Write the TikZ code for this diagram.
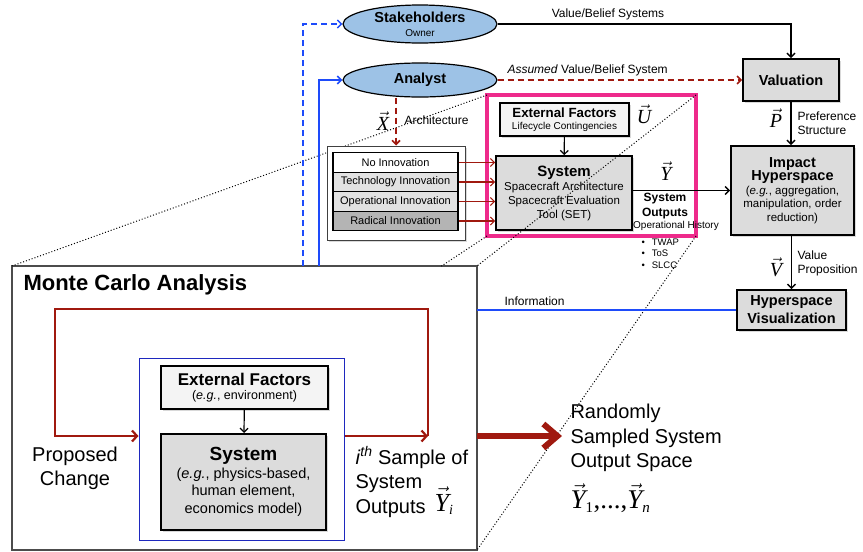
\documentclass[tikz,border=0pt]{standalone}
\usepackage{fontspec}
\setmainfont{Liberation Sans}
\newfontfamily\vecfont{Liberation Serif}
\usetikzlibrary{arrows.meta,shapes.geometric,shadows,calc}

\definecolor{mcred}{RGB}{160,25,15}
\definecolor{framepink}{RGB}{238,42,139}
\definecolor{ellblue}{RGB}{157,194,230}
\definecolor{lineblue}{RGB}{30,75,250}
\definecolor{innerblue}{RGB}{30,40,190}
\definecolor{boxgray}{RGB}{220,220,220}
\definecolor{boxlight}{RGB}{244,244,244}
\definecolor{rowgray}{RGB}{226,226,226}
\definecolor{rowdark}{RGB}{180,180,180}

\newcommand{\fsz}[2]{\fontsize{#1}{#2}\selectfont}
\newcommand{\vsym}[1]{\vec{\mbox{\vecfont\itshape #1}}}
\newcommand{\vsub}[1]{_{\mbox{\vecfont\fsz{15}{15}#1}}}

\tikzset{
  shade box/.style={drop shadow={opacity=0.3,shadow xshift=1.5pt,shadow yshift=-1.5pt}},
  graybox/.style={draw, line width=1.6pt, fill=boxgray, inner sep=0pt, align=center, shade box},
  lightbox/.style={draw, line width=1.4pt, fill=boxlight, inner sep=0pt, align=center, shade box},
  actor/.style={ellipse, draw, line width=1.2pt, fill=ellblue, inner sep=0pt, align=center, minimum width=154pt},
  innorow/.style={draw, line width=1.1pt, minimum width=125pt, minimum height=19.5pt, inner sep=0pt, font=\fsz{11}{13}},
  vlabel/.style={font=\fsz{20}{22}, inner sep=0.5pt},
  lbl/.style={font=\fsz{12}{14}},
  blkarrow/.style={->, line width=1.5pt},
  redarrow/.style={->, draw=mcred, line width=1.2pt},
  reddash/.style={->, draw=mcred, line width=1.6pt, dash pattern=on 6pt off 4pt},
  loopline/.style={draw=mcred, line width=2.2pt, -{Straight Barb[length=5pt,width=11pt]}},
  zoomline/.style={dotted, line width=1pt},
}

\begin{document}
\begin{tikzpicture}[x=1pt, y=-1pt, >={Straight Barb[length=4pt,width=8pt]}]
    \useasboundingbox (0,0) rectangle (863,552);

    % Khung hong: he thong tau vu tru
    \node[lightbox, minimum width=129pt, minimum height=33pt] (extu) at (564.5,119.5)
      {{\bfseries\fsz{13.3}{15}External Factors}\\ {\fsz{10}{12}Lifecycle Contingencies}};
    \node[graybox, minimum width=136pt, minimum height=74pt, font=\fsz{11.5}{14}] (sys) at (564,193)
      {{\bfseries\fsz{15}{17}System}\\ Spacecraft Architecture\\ Spacecraft Evaluation\\ Tool (SET)};
    \node[draw=framepink, line width=4pt, minimum width=209pt, minimum height=141pt, inner sep=0pt, outer sep=0pt] (pink) at (591.5,165.5) {};

    % Hop Monte Carlo
    \node[draw=black!70, line width=1.6pt, fill=white, minimum width=465pt, minimum height=284pt, inner sep=0pt, outer sep=0pt] (mc) at (244.5,408) {};

    % Duong cham phong to
    \draw[zoomline] (pink.north west) -- (mc.north west);
    \draw[zoomline] (pink.north east) -- (mc.north east);
    \draw[zoomline] (pink.south west) -- ($(pink.south west)!0.096!(mc.south west)$);
    \draw[zoomline] (pink.south east) -- (mc.south east);

    % Noi dung Monte Carlo
    \node[font=\bfseries\fsz{22}{24}, anchor=west] (mctitle) at (20,285) {Monte Carlo Analysis};
    \node[draw=innerblue, line width=1pt, minimum width=205pt, minimum height=182pt, inner sep=0pt] (inbox) at (241.5,449) {};
    \node[lightbox, minimum width=167pt, minimum height=43pt] (extmc) at (244.5,387.5)
      {{\bfseries\fsz{17}{19}External Factors}\\[2pt] {\fsz{12.5}{14}(\textit{e.g.}, environment)}};
    \node[graybox, line width=2pt, minimum width=165pt, minimum height=96pt, font=\fsz{14.5}{17.5}] (sysmc) at (243.5,482)
      {{\bfseries\fsz{19}{21}System}\\ (\textit{e.g.}, physics-based,\\ human element,\\ economics model)};
    \draw[blkarrow, line width=1.2pt] (extmc) -- (sysmc);

    \coordinate (loopR) at (428,436);
    \coordinate (loopL) at (55,436);
    \coordinate (loopT) at (55,309);
    \draw[loopline] (inbox.east |- loopR) -- (loopR);
    \draw[loopline] (loopR) -- (loopR |- loopT) -- (loopT) -- (loopL) -- (inbox.west |- loopL);

    \node[font=\fsz{20}{24}, align=center] (propchg) at (75,468) {Proposed\\Change};
    \node[font=\fsz{20}{24.5}, align=left, anchor=west] (sample) at (352,482)
      {\textit{i}\textsuperscript{\textit{th}} Sample of\\ System\\ Outputs};
    \node[font=\fsz{26}{28}, inner sep=0.5pt] (yi) at (444,501) {$\vsym{Y}_{\mbox{\vecfont\itshape\fsz{14}{14}i}}$};

    % Mui ten lon
    \coordinate (bigtip) at (562,436);
    \draw[mcred, line width=6pt, -{Straight Barb[length=14pt,width=24pt]}] (mc.east |- loopR) -- (bigtip);
    \node[font=\fsz{20}{24.5}, align=left, anchor=west] (randsp) at (567,438) {Randomly\\ Sampled System\\ Output Space};
    \node[font=\fsz{27}{29}, anchor=west, inner sep=0.5pt] (ysamp) at (570,498)
      {$\vsym{Y}\vsub{1}\mbox{\vecfont ,...,}\vsym{Y}_{\mbox{\vecfont\itshape\fsz{15}{15}n}}$};

    % Stakeholders va Analyst
    \node[actor, minimum height=38pt, font=\bfseries\fsz{14.5}{15}] (stake) at (420,24)
      {Stakeholders\\[-1pt] {\mdseries\fsz{10}{11}Owner}};
    \node[actor, minimum height=34pt, font=\bfseries\fsz{14.5}{16}] (analyst) at (420,80) {Analyst};

    \coordinate (stakefoot) at (303,266);
    \coordinate (analfoot) at (319,266);
    \draw[->, draw=lineblue, line width=1.5pt, dash pattern=on 6pt off 4pt] (stakefoot) |- (stake.west);
    \draw[->, draw=lineblue, line width=1.6pt] (analfoot) |- (analyst.west);

    % Cac muc doi moi
    \node[draw=black!75, line width=1pt, fill=white, minimum width=138pt, minimum height=94pt, inner sep=0pt, shade box] (inno) at (396,193) {};
    \foreach \txt/\col [count=\i] in {No Innovation/white, Technology Innovation/rowgray, Operational Innovation/rowgray, Radical Innovation/rowdark}
      \node[innorow, fill=\col] (row\i) at (395.5,143+19.5*\i) {\txt};
    \foreach \i in {1,...,4}
      \draw[redarrow] (row\i.east) -- (row\i.east -| sys.west);

    \draw[reddash] (analyst.south -| inno.north) -- (inno.north);
    \node[vlabel] (xvec) at (383,121) {$\vsym{X}$};
    \node[lbl, anchor=west] (archlbl) at (401,120) {Architecture};

    % Valuation, Impact, Visualization
    \node[graybox, minimum width=96pt, minimum height=42pt, font=\bfseries\fsz{14.5}{16}] (valu) at (791,80) {Valuation};
    \draw[reddash] (analyst.east) -- (valu.west);
    \node[lbl, anchor=west] (assumed) at (504,70) {\textit{Assumed} Value/Belief System};
    \draw[blkarrow] (stake.east) -| (valu.north);
    \node[lbl] (vbs) at (608,14) {Value/Belief Systems};

    \node[graybox, minimum width=123pt, minimum height=89pt, font=\fsz{11.5}{13.5}] (impact) at (792.5,190.5)
      {{\bfseries\fsz{14.5}{17}Impact}\\ {\bfseries\fsz{14.5}{17}Hyperspace}\\ (\textit{e.g.}, aggregation,\\ manipulation, order\\ reduction)};
    \draw[blkarrow] (valu.south) -- (valu.south |- impact.north);
    \node[vlabel] (pvec) at (776,118) {$\vsym{P}$};
    \node[lbl, align=left, anchor=west] (pref) at (794,123) {Preference\\Structure};

    \node[graybox, minimum width=109pt, minimum height=40pt, font=\bfseries\fsz{14.5}{18}] (hv) at (791.5,310) {Hyperspace\\Visualization};
    \draw[blkarrow] (impact.south -| hv.north) -- (hv.north);
    \node[vlabel] (vvec) at (776,267) {$\vsym{V}$};
    \node[lbl, align=left, anchor=west] (vprop) at (794,263) {Value\\Proposition};

    % Dau ra he thong
    \draw[blkarrow] (sys.east |- impact.west) -- (impact.west);
    \draw[blkarrow, line width=1.2pt] (extu) -- (sys);
    \node[vlabel] (uvec) at (644,114) {$\vsym{U}$};
    \node[vlabel] (yvec) at (666,171) {$\vsym{Y}$};
    \node[font=\bfseries\fsz{12}{14.5}, align=center] (sysout) at (665,206) {System\\Outputs};
    \node[font=\fsz{10}{11}] (ophist) at (676,226) {Operational History};
    \node[font=\fsz{9.5}{11.5}, align=left, anchor=north west] (metrics) at (638,235)
      {\textbullet\hspace{7pt}TWAP\\ \textbullet\hspace{7pt}ToS\\ \textbullet\hspace{7pt}SLCC};

    % Thong tin
    \draw[draw=lineblue, line width=1.6pt] (mc.east |- hv.west) -- (hv.west);
    \node[lbl, anchor=west] (info) at (501,301) {Information};
\end{tikzpicture}
\end{document}
